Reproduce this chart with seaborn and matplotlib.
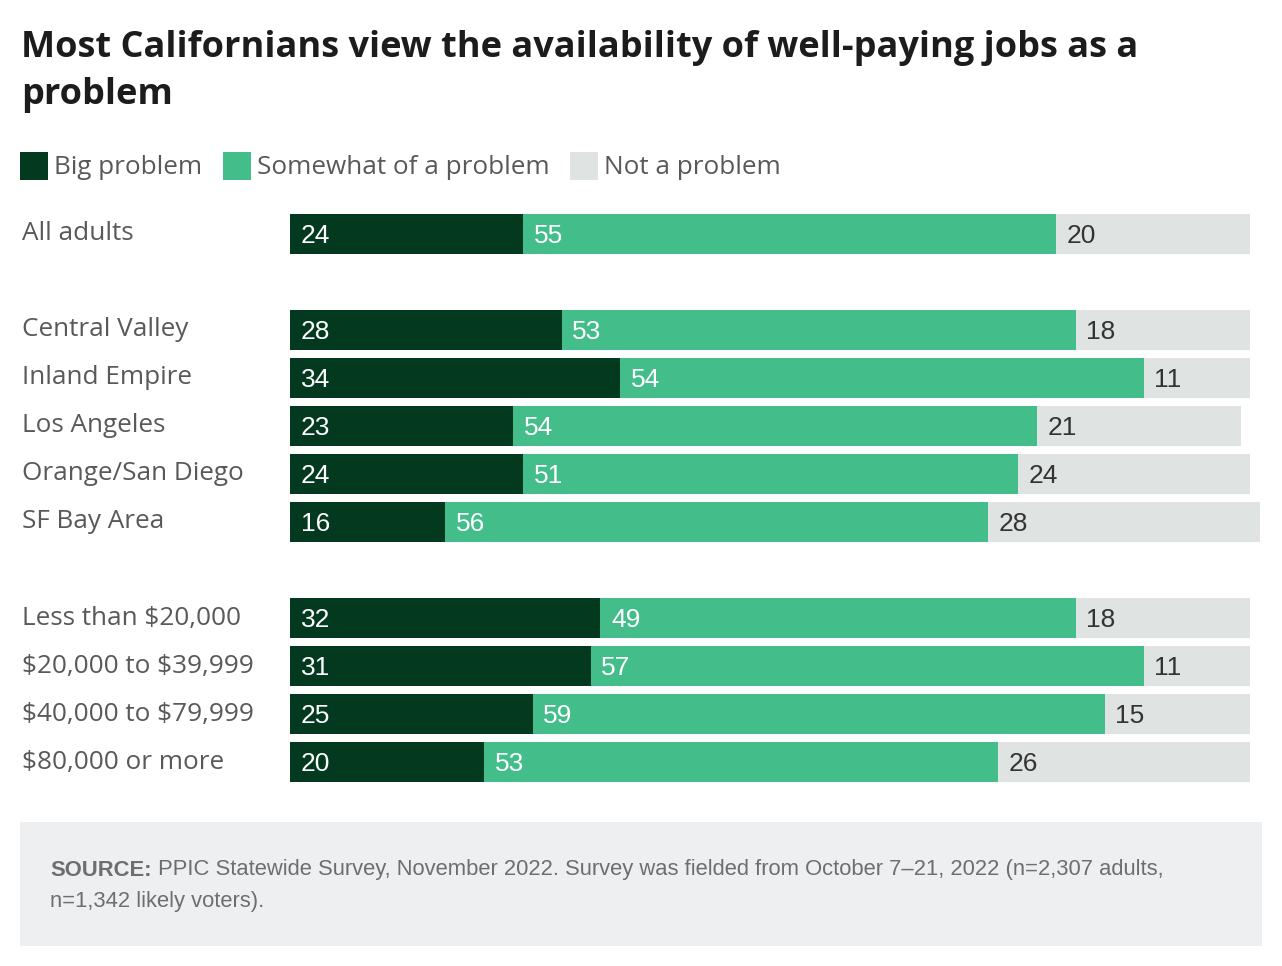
import matplotlib
matplotlib.use("Agg")
import matplotlib.pyplot as plt
from matplotlib.patches import Rectangle
import matplotlib.transforms as mtransforms
import seaborn as sns
import pandas as pd

categories = ["All adults", "Central Valley", "Inland Empire", "Los Angeles",
              "Orange/San Diego", "SF Bay Area", "Less than $20,000",
              "$20,000 to $39,999", "$40,000 to $79,999", "$80,000 or more"]
big = [24, 28, 34, 23, 24, 16, 32, 31, 25, 20]
somewhat = [55, 53, 54, 54, 51, 56, 49, 57, 59, 53]
notp = [20, 18, 11, 21, 24, 28, 18, 11, 15, 26]
series_names = ["Big problem", "Somewhat of a problem", "Not a problem"]

title_l1 = "Most Californians view the availability of well-paying jobs as a"
title_l2 = "problem"
source_bold = "SOURCE:"
source_rest = (" PPIC Statewide Survey, November 2022. Survey was fielded from October 7\u201321, 2022 (n=2,307 adults,")
source_line2 = "n=1,342 likely voters)."

C_BIG = "#03391f"
C_SOME = "#43bd8a"
C_NOT = "#dfe4e3"

sns.set_theme(style="white")
plt.rcParams['font.family'] = ['Open Sans', 'DejaVu Sans']
plt.rcParams['text.parse_math'] = False

W, H = 1282, 966
fig = plt.figure(figsize=(W / 100, H / 100), dpi=100)
renderer = fig.canvas.get_renderer()

def fx(px):
    return px / W

def fy(py):
    return 1 - py / H

def fit_size(text, target_px, family, weight="normal", base=20):
    t = fig.text(0, 0, text, fontsize=base, family=family, fontweight=weight)
    w = t.get_window_extent(renderer=renderer).width
    t.remove()
    return base * target_px / w

LAB_FONT = ['Open Sans', 'DejaVu Sans']
VAL_FONT = ['Liberation Sans', 'DejaVu Sans']

title_fs = fit_size(title_l1, 1114, LAB_FONT, "bold")
lab_fs = fit_size("Central Valley", 166, LAB_FONT)
src_fs = fit_size(source_bold + source_rest, 1115, VAL_FONT)

order = ["All adults", " ", "Central Valley", "Inland Empire", "Los Angeles",
         "Orange/San Diego", "SF Bay Area", "  ", "Less than $20,000",
         "$20,000 to $39,999", "$40,000 to $79,999", "$80,000 or more"]

df = pd.DataFrame({"cat": categories, "big": big, "somewhat": somewhat, "notp": notp})
df["c2"] = df["big"] + df["somewhat"]
df["c3"] = df["c2"] + df["notp"]

ax = fig.add_axes([fx(290), fy(786), fx(1260) - fx(290), (786 - 210) / H])
bw = 40 / 48
sns.barplot(data=df, y="cat", x="c3", order=order, color=C_NOT, width=bw,
            orient="h", ax=ax, saturation=1, errorbar=None)
sns.barplot(data=df, y="cat", x="c2", order=order, color=C_SOME, width=bw,
            orient="h", ax=ax, saturation=1, errorbar=None)
sns.barplot(data=df, y="cat", x="big", order=order, color=C_BIG, width=bw,
            orient="h", ax=ax, saturation=1, errorbar=None)
for p in ax.patches:
    p.set_linewidth(0)

ax.set_xlim(0, 100)
ax.set_ylim(len(order) - 0.5, -0.5)
ax.axis("off")

blend = mtransforms.blended_transform_factory(fig.transFigure, ax.transData)
for _, r in df.iterrows():
    yi = order.index(r["cat"])
    ax.text(1.1, yi + 0.04, f"{r['big']}", color="white",
            fontsize=19, va="center", ha="left", family=VAL_FONT)
    ax.text(r["big"] + 1.1, yi + 0.04, f"{r['somewhat']}", color="white",
            fontsize=19, va="center", ha="left", family=VAL_FONT)
    ax.text(r["c2"] + 1.1, yi + 0.04, f"{r['notp']}", color="#333333",
            fontsize=19, va="center", ha="left", family=VAL_FONT)
    ax.text(fx(22), yi, r["cat"], color="#595959", fontsize=lab_fs,
            va="center", ha="left", family=LAB_FONT, transform=blend)

# title
fig.text(fx(21), fy(48), title_l1, fontsize=title_fs, fontweight="bold",
         color="#1c1c1c", va="center", ha="left", family=LAB_FONT)
fig.text(fx(21), fy(95), title_l2, fontsize=title_fs, fontweight="bold",
         color="#1c1c1c", va="center", ha="left", family=LAB_FONT)

# legend
leg_colors = [C_BIG, C_SOME, C_NOT]
leg_x = [20, 223, 570]
for name, col, lx in zip(series_names, leg_colors, leg_x):
    fig.patches.append(Rectangle((fx(lx), fy(180)), fx(28), 28 / H, facecolor=col,
                                 edgecolor="none", transform=fig.transFigure, figure=fig))
    fig.text(fx(lx + 34), fy(168), name, fontsize=lab_fs, color="#595959",
             va="center", ha="left", family=LAB_FONT)

# footer
fig.patches.append(Rectangle((fx(20), fy(946)), fx(1262 - 20), (946 - 822) / H,
                             facecolor="#eeeff1", edgecolor="none",
                             transform=fig.transFigure, figure=fig, zorder=0))
t1 = fig.text(fx(50), fy(870), source_bold, fontsize=src_fs, fontweight="bold",
              color="#6d6e71", va="center", ha="left", family=VAL_FONT)
bb = t1.get_window_extent(renderer=renderer)
fig.text(bb.x1 / W, fy(870), source_rest, fontsize=src_fs, color="#6d6e71",
         va="center", ha="left", family=VAL_FONT)
fig.text(fx(50), fy(902), source_line2, fontsize=src_fs, color="#6d6e71",
         va="center", ha="left", family=VAL_FONT)

fig.savefig("out.png", dpi=100)
